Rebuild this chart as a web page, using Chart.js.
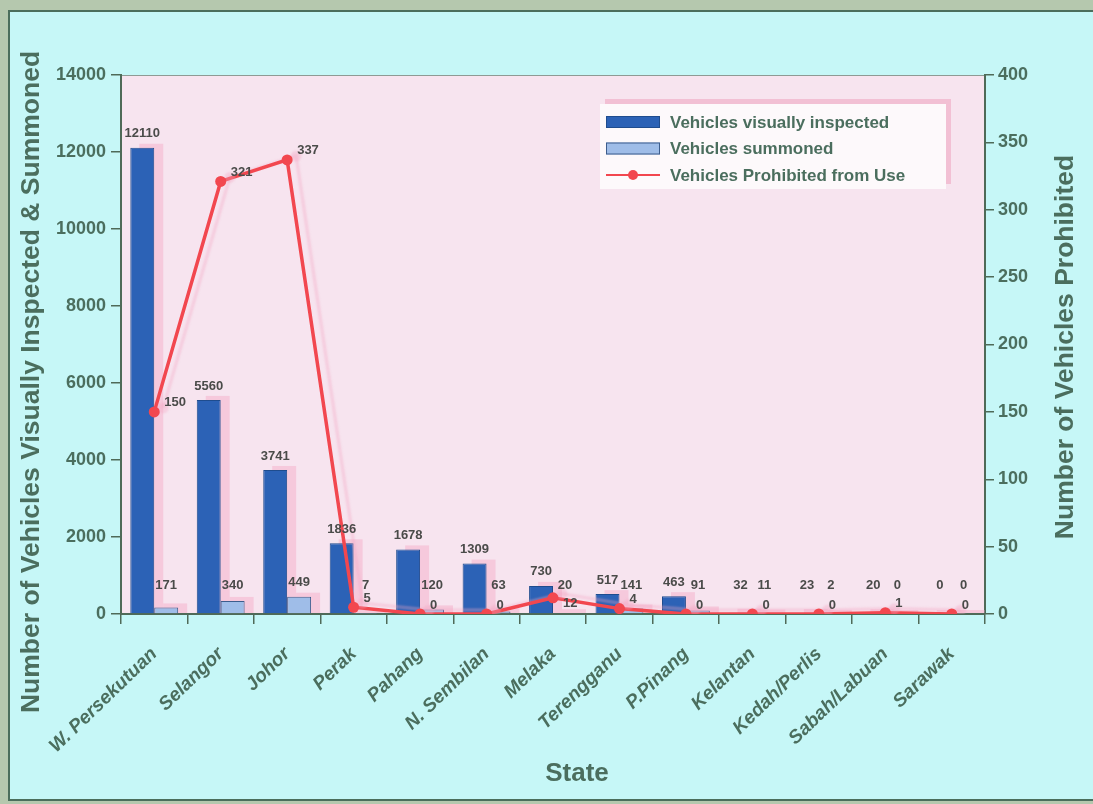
<!DOCTYPE html>
<html>
<head>
<meta charset="utf-8">
<script src="https://cdn.jsdelivr.net/npm/chart.js@4.4.1/dist/chart.umd.min.js"></script>
<style>
  html, body { margin: 0; padding: 0; background: #b5c8ae; }
  canvas { display: block; }
</style>
</head>
<body>
<canvas id="stateChart" width="1093" height="804"></canvas>
<script>
"use strict"

const states = ["W. Persekutuan", "Selangor", "Johor", "Perak", "Pahang", "N. Sembilan",
    "Melaka", "Terengganu", "P.Pinang", "Kelantan", "Kedah/Perlis", "Sabah/Labuan", "Sarawak"];
const inspected = [12110, 5560, 3741, 1836, 1678, 1309, 730, 517, 463, 32, 23, 20, 0];
const summoned = [171, 340, 449, 7, 120, 63, 20, 141, 91, 11, 2, 0, 0];
const prohibited = [150, 321, 337, 5, 0, 0, 12, 4, 0, 0, 0, 1, 0];
const leftTicks = [0, 2000, 4000, 6000, 8000, 10000, 12000, 14000];
const rightTicks = [0, 50, 100, 150, 200, 250, 300, 350, 400];

const FONT = '"Liberation Sans", Arial, Helvetica, sans-serif';
const NARROW = '"Liberation Sans Narrow", "Liberation Sans", Arial, sans-serif';
const textColor = "#4b6e5e";
const axisColor = "#4f6a58";
const darkBlue = "#2c62b6";
const lightBlue = "#9fbde8";
const red = "#f2474f";
const shadowPink = "rgba(244,168,198,0.45)";

// cyan panel, frame and pink plot area
const backdrop = {
    id: "backdrop",
    beforeDraw(chart) {
        const {ctx, chartArea: a} = chart;
        ctx.save();
        ctx.fillStyle = "#b5c8ae";
        ctx.fillRect(0, 0, chart.width, chart.height);
        ctx.fillStyle = "#c6f7f7";
        ctx.fillRect(9, 11, chart.width - 9, chart.height - 15);
        ctx.strokeStyle = "#4b6e5c";
        ctx.lineWidth = 2;
        ctx.strokeRect(9, 11, chart.width, chart.height - 15);
        ctx.fillStyle = "#f7e4ef";
        ctx.fillRect(a.left, a.top, a.right - a.left, a.bottom - a.top);
        ctx.strokeStyle = "#8e9a94";
        ctx.lineWidth = 1;
        ctx.beginPath();
        ctx.moveTo(a.left, a.top + 0.5);
        ctx.lineTo(a.right, a.top + 0.5);
        ctx.stroke();
        ctx.restore();
    }
};

// pink shadow blocks behind every bar, soft shadow under the line
const pinkShadow = {
    id: "pinkShadow",
    beforeDatasetsDraw(chart) {
        const ctx = chart.ctx;
        const bottom = chart.chartArea.bottom;
        ctx.save();
        ctx.fillStyle = shadowPink;
        chart.data.datasets.forEach((ds, i) => {
            const meta = chart.getDatasetMeta(i);
            if (meta.type !== "bar") return;
            meta.data.forEach(el => {
                const {x, y, width} = el.getProps(["x", "y", "width"], true);
                ctx.fillRect(x - width / 2 + 9, y - 4, width, bottom - y + 3);
            });
        });
        ctx.restore();
    },
    beforeDatasetDraw(chart, args) {
        const ctx = chart.ctx;
        ctx.save();
        if (args.meta.type === "line") {
            ctx.shadowColor = "rgba(244,165,195,0.35)";
            ctx.shadowOffsetX = 9;
            ctx.shadowOffsetY = -4;
            ctx.shadowBlur = 2;
        }
    },
    afterDatasetDraw(chart) {
        chart.ctx.restore();
    }
};

// numbers over the bars and beside the line points
const valueLabels = {
    id: "valueLabels",
    afterDatasetsDraw(chart) {
        const ctx = chart.ctx;
        const floor = chart.chartArea.bottom - 29;
        ctx.save();
        ctx.font = "bold 13px " + NARROW;
        ctx.fillStyle = "#4a4b49";
        ctx.textBaseline = "middle";
        chart.data.datasets.forEach((ds, i) => {
            const meta = chart.getDatasetMeta(i);
            meta.data.forEach((el, j) => {
                const text = String(ds.data[j]);
                if (meta.type === "bar") {
                    ctx.textAlign = "center";
                    ctx.fillText(text, el.x, Math.min(el.y - 14, floor));
                } else {
                    // drop below the point when it would sit on the bar numbers
                    let ly = el.y - 9;
                    if (Math.abs(ly - floor) < 12) ly = el.y + 6;
                    ctx.textAlign = "left";
                    ctx.fillText(text, el.x + 10, ly);
                }
            });
        });
        ctx.restore();
    }
};

// axis titles, all reading bottom to top on the sides
const axisTitles = {
    id: "axisTitles",
    afterDraw(chart) {
        const ctx = chart.ctx;
        ctx.save();
        ctx.fillStyle = textColor;
        ctx.textAlign = "center";
        ctx.textBaseline = "middle";
        ctx.font = "bold 26px " + FONT;
        ctx.fillText("State", 577, 774);
        ctx.font = "bold 26.5px " + FONT;
        ctx.translate(32, 382);
        ctx.rotate(-Math.PI / 2);
        ctx.fillText("Number of Vehicles Visually Inspected & Summoned", 0, 0);
        ctx.setTransform(1, 0, 0, 1, 0, 0);
        ctx.translate(1066, 347);
        ctx.rotate(-Math.PI / 2);
        ctx.fillText("Number of Vehicles Prohibited", 0, 0);
        ctx.restore();
    }
};

// boxed legend inside the plot area
const boxLegend = {
    id: "boxLegend",
    afterDraw(chart) {
        const ctx = chart.ctx;
        const x = 600, y = 104, w = 346, h = 85;
        ctx.save();
        ctx.fillStyle = "#f2c0d4";
        ctx.fillRect(x + 5, y - 5, w, h);
        ctx.fillStyle = "#fdf9fb";
        ctx.fillRect(x, y, w, h);
        ctx.font = "bold 17px " + FONT;
        ctx.textBaseline = "middle";
        chart.data.datasets.forEach((ds, i) => {
            const cy = y + 18 + i * 26.5;
            if (ds.type === "line") {
                ctx.strokeStyle = ds.borderColor;
                ctx.lineWidth = 2;
                ctx.beginPath();
                ctx.moveTo(x + 6, cy);
                ctx.lineTo(x + 60, cy);
                ctx.stroke();
                ctx.fillStyle = ds.borderColor;
                ctx.beginPath();
                ctx.arc(x + 33, cy, 5, 0, Math.PI * 2);
                ctx.fill();
            } else {
                ctx.fillStyle = ds.backgroundColor;
                ctx.fillRect(x + 6, cy - 6, 54, 12);
                ctx.strokeStyle = ds.borderColor;
                ctx.lineWidth = 1;
                ctx.strokeRect(x + 6.5, cy - 5.5, 53, 11);
            }
            ctx.fillStyle = textColor;
            ctx.fillText(ds.label, x + 70, cy + 1);
        });
        ctx.restore();
    }
};

const tickFont = {family: FONT, size: 18, weight: "bold"};

const stateChart = new Chart(
    document.querySelector("#stateChart"),
    {
        type: "bar",
        data: {
            labels: states,
            datasets: [
                {
                    label: "Vehicles visually inspected",
                    data: inspected,
                    yAxisID: "y",
                    backgroundColor: darkBlue,
                    borderColor: "#1f4c8e",
                    borderWidth: 1,
                    order: 1,
                },
                {
                    label: "Vehicles summoned",
                    data: summoned,
                    yAxisID: "y",
                    backgroundColor: lightBlue,
                    borderColor: "#3d5d8c",
                    borderWidth: 1,
                    order: 2,
                },
                {
                    type: "line",
                    label: "Vehicles Prohibited from Use",
                    data: prohibited,
                    yAxisID: "y1",
                    borderColor: red,
                    backgroundColor: red,
                    borderWidth: 3.5,
                    pointRadius: 5.5,
                    pointBorderWidth: 0,
                    tension: 0,
                    order: 0,
                },
            ],
        },
        options: {
            responsive: false,
            animation: false,
            layout: {padding: {top: 75, left: 0, right: 0, bottom: 0}},
            datasets: {bar: {categoryPercentage: 0.72, barPercentage: 1}},
            plugins: {legend: {display: false}, tooltip: {enabled: false}},
            scales: {
                x: {
                    offset: true,
                    grid: {offset: true, drawOnChartArea: false, tickLength: 10, color: axisColor, lineWidth: 1.5},
                    border: {color: axisColor, width: 2},
                    ticks: {
                        autoSkip: false, maxRotation: 44, minRotation: 44, padding: 19, color: textColor,
                        font: {family: FONT, size: 19, weight: "bold", style: "italic"},
                    },
                    afterFit(scale) { scale.height = 190; },
                },
                y: {
                    position: "left",
                    min: 0,
                    max: 14000,
                    afterBuildTicks(scale) { scale.ticks = leftTicks.map(v => ({value: v})); },
                    grid: {drawOnChartArea: false, tickLength: 10, color: axisColor, lineWidth: 1.5},
                    border: {color: axisColor, width: 2},
                    ticks: {color: textColor, font: tickFont, padding: 5, callback: v => String(v)},
                    afterFit(scale) { scale.width = 121; },
                },
                y1: {
                    position: "right",
                    min: 0,
                    max: 400,
                    afterBuildTicks(scale) { scale.ticks = rightTicks.map(v => ({value: v})); },
                    grid: {drawOnChartArea: false, tickLength: 9, color: axisColor, lineWidth: 1.5},
                    border: {color: axisColor, width: 2},
                    ticks: {color: textColor, font: tickFont, padding: 4, callback: v => String(v)},
                    afterFit(scale) { scale.width = 108; },
                },
            },
        },
        plugins: [backdrop, pinkShadow, valueLabels, axisTitles, boxLegend],
    }
);
</script>
</body>
</html>
